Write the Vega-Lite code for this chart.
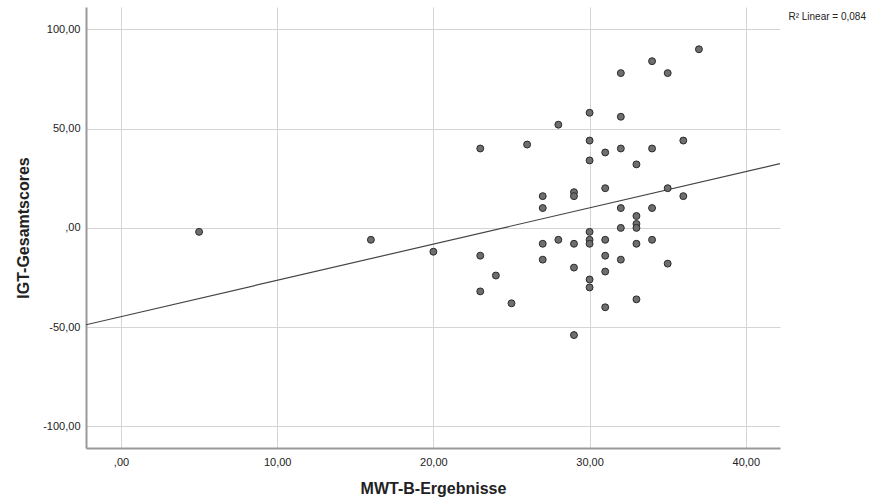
{
  "$schema": "https://vega.github.io/schema/vega-lite/v6.json",
  "autosize": "none",
  "width": 694,
  "height": 441,
  "padding": {"left": 86, "top": 7, "right": 89, "bottom": 54},
  "background": "white",
  "title": {
    "text": "R² Linear = 0,084",
    "orient": "top",
    "anchor": "end",
    "frame": "group",
    "font": "Liberation Sans",
    "fontSize": 10,
    "fontWeight": "normal",
    "color": "#222",
    "baseline": "middle",
    "offset": 0,
    "dx": 86,
    "dy": 20
  },
  "config": {
    "view": {"stroke": null},
    "axis": {
      "labelFont": "Liberation Sans",
      "labelFontSize": 11,
      "labelColor": "#222",
      "titleFont": "Liberation Sans",
      "titleFontSize": 16,
      "titleFontWeight": "bold",
      "titleColor": "#222",
      "domainColor": "#999",
      "domainWidth": 2,
      "ticks": false,
      "grid": true,
      "gridColor": "#d4d4d4",
      "gridWidth": 1
    }
  },
  "datasets": {
    "pts": [
      {"mwt": 5, "igt": -2}, {"mwt": 16, "igt": -6}, {"mwt": 20, "igt": -12},
      {"mwt": 23, "igt": 40}, {"mwt": 23, "igt": -14}, {"mwt": 23, "igt": -32},
      {"mwt": 24, "igt": -24}, {"mwt": 25, "igt": -38}, {"mwt": 26, "igt": 42},
      {"mwt": 27, "igt": 16}, {"mwt": 27, "igt": 10}, {"mwt": 27, "igt": -8}, {"mwt": 27, "igt": -16},
      {"mwt": 28, "igt": 52}, {"mwt": 28, "igt": -6},
      {"mwt": 29, "igt": 18}, {"mwt": 29, "igt": 16}, {"mwt": 29, "igt": -8}, {"mwt": 29, "igt": -20}, {"mwt": 29, "igt": -54},
      {"mwt": 30, "igt": 58}, {"mwt": 30, "igt": 44}, {"mwt": 30, "igt": 34}, {"mwt": 30, "igt": -2}, {"mwt": 30, "igt": -6}, {"mwt": 30, "igt": -8}, {"mwt": 30, "igt": -26}, {"mwt": 30, "igt": -30},
      {"mwt": 31, "igt": 38}, {"mwt": 31, "igt": 20}, {"mwt": 31, "igt": -6}, {"mwt": 31, "igt": -14}, {"mwt": 31, "igt": -22}, {"mwt": 31, "igt": -40},
      {"mwt": 32, "igt": 78}, {"mwt": 32, "igt": 56}, {"mwt": 32, "igt": 40}, {"mwt": 32, "igt": 10}, {"mwt": 32, "igt": 0}, {"mwt": 32, "igt": -16},
      {"mwt": 33, "igt": 32}, {"mwt": 33, "igt": 6}, {"mwt": 33, "igt": 2}, {"mwt": 33, "igt": 0}, {"mwt": 33, "igt": -8}, {"mwt": 33, "igt": -36},
      {"mwt": 34, "igt": 84}, {"mwt": 34, "igt": 40}, {"mwt": 34, "igt": 10}, {"mwt": 34, "igt": -6},
      {"mwt": 35, "igt": 78}, {"mwt": 35, "igt": 20}, {"mwt": 35, "igt": -18},
      {"mwt": 36, "igt": 44}, {"mwt": 36, "igt": 16},
      {"mwt": 37, "igt": 90}
    ],
    "fit": [
      {"mwt": -2.24, "igt": -48.8},
      {"mwt": 42.19, "igt": 32.4}
    ]
  },
  "encoding": {
    "x": {
      "field": "mwt",
      "type": "quantitative",
      "scale": {"domain": [-2.24, 42.19], "nice": false, "zero": false},
      "axis": {
        "title": "MWT-B-Ergebnisse",
        "values": [0, 10, 20, 30, 40],
        "labelPadding": 8,
        "titlePadding": 13,
        "labelExpr": "datum.value == 0 ? ',00' : (datum.value < 0 ? '-' : '') + replace(format(abs(datum.value), '.2f'), '.', ',')"
      }
    },
    "y": {
      "field": "igt",
      "type": "quantitative",
      "scale": {"domain": [-110.9, 111.3], "nice": false, "zero": false},
      "axis": {
        "title": "IGT-Gesamtscores",
        "values": [-100, -50, 0, 50, 100],
        "labelPadding": 6,
        "titlePadding": 11,
        "labelExpr": "datum.value == 0 ? ',00' : (datum.value < 0 ? '-' : '') + replace(format(abs(datum.value), '.2f'), '.', ',')"
      }
    }
  },
  "layer": [
    {
      "data": {"name": "fit"},
      "mark": {"type": "line", "color": "#444", "strokeWidth": 1.2, "clip": true}
    },
    {
      "data": {"name": "pts"},
      "mark": {"type": "point", "shape": "circle", "filled": true, "size": 48, "fill": "#6e6e6e", "stroke": "#2a2a2a", "strokeWidth": 1, "opacity": 1, "fillOpacity": 1}
    }
  ]
}
